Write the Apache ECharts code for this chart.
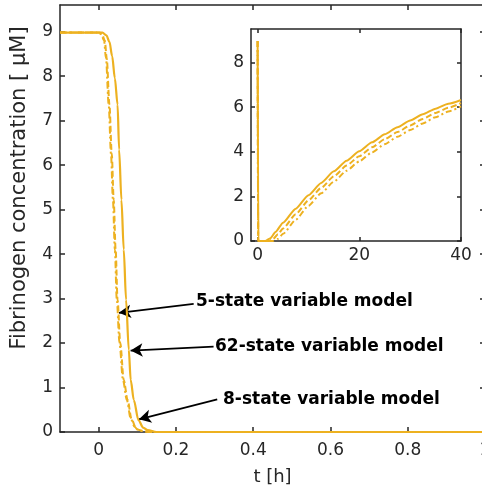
<!DOCTYPE html>
<html><head><meta charset="utf-8">
<script src="https://cdn.jsdelivr.net/npm/echarts@6/dist/echarts.min.js"></script>
<style>html,body{margin:0;padding:0;background:#fff}#c{width:482px;height:489px}</style>
</head><body><div id="c"></div>
<script>
// ---- data ----
const mainXTicks = [0, 0.2, 0.4, 0.6, 0.8, 1];
const mainYTicks = [0, 1, 2, 3, 4, 5, 6, 7, 8, 9];
const insetXTicks = [0, 20, 40];
const insetYTicks = [0, 2, 4, 6, 8];

// main panel (t in hours)
const tSolid = [-0.1, 0.01, 0.02, 0.028, 0.035, 0.042, 0.049, 0.053, 0.059, 0.065, 0.071, 0.078, 0.083, 0.091, 0.103, 0.115, 0.127, 0.15, 1];
const vSolid = [8.98, 8.98, 8.92, 8.77, 8.45, 7.95, 7.36, 6.35, 5.22, 4.1, 2.97, 1.85, 1.17, 0.72, 0.27, 0.1, 0.04, 0, 0];
const tDashed = [-0.1, 0.002, 0.009, 0.016, 0.021, 0.028, 0.034, 0.039, 0.044, 0.049, 0.056, 0.065, 0.075, 0.085, 0.095, 0.103, 0.115, 0.13, 1];
const vDashed = [8.98, 8.98, 8.94, 8.8, 8.4, 7.36, 6.25, 5.22, 4.1, 2.97, 2.0, 1.17, 0.72, 0.3, 0.12, 0.05, 0.02, 0, 0];
const tDashDot = [-0.1, 0.0, 0.007, 0.014, 0.019, 0.026, 0.032, 0.037, 0.042, 0.047, 0.054, 0.063, 0.073, 0.083, 0.093, 0.101, 0.113, 0.128, 1];
const vDashDot = [8.98, 8.98, 8.94, 8.8, 8.4, 7.36, 6.25, 5.22, 4.1, 2.97, 2.0, 1.17, 0.72, 0.3, 0.12, 0.05, 0.02, 0, 0];

// inset panel (long time scale, hours)
const tInSolid = [0, 0.15, 1.5, 2.5, 3.5, 5, 7.5, 10, 12.5, 15, 17.5, 20, 22.5, 25, 27.5, 30, 32.5, 35, 37.5, 40];
const vInSolid = [8.96, 0, 0, 0.12, 0.4, 0.82, 1.45, 2.05, 2.6, 3.12, 3.6, 4.02, 4.42, 4.78, 5.1, 5.4, 5.68, 5.93, 6.15, 6.32];
const tInDashed = [0, 0.12, 2.2, 3, 4, 5, 7.5, 10, 12.5, 15, 17.5, 20, 22.5, 25, 27.5, 30, 32.5, 35, 37.5, 40];
const vInDashed = [8.96, 0, 0, 0.08, 0.3, 0.56, 1.2, 1.82, 2.38, 2.9, 3.38, 3.8, 4.2, 4.56, 4.88, 5.18, 5.47, 5.74, 5.97, 6.18];
const tInDashDot = [0, 0.11, 3, 4, 5, 7.5, 10, 12.5, 15, 17.5, 20, 22.5, 25, 27.5, 30, 32.5, 35, 37.5, 40];
const vInDashDot = [8.96, 0, 0, 0.1, 0.32, 0.95, 1.58, 2.14, 2.66, 3.15, 3.57, 3.97, 4.34, 4.67, 4.97, 5.27, 5.55, 5.8, 6.03];

// annotations: label, arrow tail (t, value), arrow head (t, value)
const labels = ['5-state variable model', '62-state variable model', '8-state variable model'];
const arrowTails = [[0.246, 2.88], [0.2975, 1.92], [0.307, 0.736]];
const arrowHeads = [[0.0525, 2.68], [0.0828, 1.83], [0.1043, 0.286]];
const yTitle = 'Fibrinogen concentration [ \u03BCM]';

const zip = (a, b) => a.map((x, i) => [x, b[i]]);
const C = '#EDB120';
const AX = '#262626';
const FONT = 'DejaVu Sans';
const FS = 17;

const chart = echarts.init(document.getElementById('c'), null, {renderer: 'canvas'});

function tick(vals, len) {
  return {show: true, inside: true, length: len, customValues: vals, lineStyle: {color: AX, width: 1.5}};
}
function axisCommon(extra) {
  return Object.assign({
    type: 'value',
    axisLine: {show: true, onZero: false, lineStyle: {color: AX, width: 1.5}},
    axisLabel: {show: false},
    splitLine: {show: false}
  }, extra);
}
function lbl(vals, margin) {
  return {color: AX, fontSize: FS, fontFamily: FONT, margin: margin, customValues: vals, formatter: v => String(v)};
}

const option = {
  animation: false,
  backgroundColor: '#fff',
  grid: [
    {left: 60, top: 5, right: -3, bottom: 57, containLabel: false, outerBoundsMode: 'none'},
    {left: 251, top: 29, width: 210, height: 212, containLabel: false, outerBoundsMode: 'none', show: true, backgroundColor: '#fff', borderWidth: 0}
  ],
  xAxis: [
    axisCommon({gridIndex: 0, position: 'bottom', min: -0.1, max: 1,
      axisTick: tick(mainXTicks, 5), axisLabel: lbl(mainXTicks, 10),
      name: 't [h]', nameLocation: 'middle', nameGap: 36,
      nameTextStyle: {color: AX, fontSize: 18, fontFamily: FONT}}),
    axisCommon({gridIndex: 0, position: 'top', min: -0.1, max: 1, axisTick: tick(mainXTicks, 5)}),
    axisCommon({gridIndex: 1, position: 'bottom', min: -1.3, max: 40,
      axisTick: tick(insetXTicks, 4), axisLabel: lbl(insetXTicks, 6)}),
    axisCommon({gridIndex: 1, position: 'top', min: -1.3, max: 40, axisTick: tick(insetXTicks, 4)})
  ],
  yAxis: [
    axisCommon({gridIndex: 0, position: 'left', min: 0, max: 9.6, interval: 1,
      axisTick: tick(mainYTicks, 5), axisLabel: lbl(mainYTicks, 7)}),
    axisCommon({gridIndex: 0, position: 'right', min: 0, max: 9.6, interval: 1, axisTick: tick(mainYTicks, 5)}),
    axisCommon({gridIndex: 1, position: 'left', min: 0, max: 9.5, interval: 2,
      axisTick: tick(insetYTicks, 4), axisLabel: lbl(insetYTicks, 7)}),
    axisCommon({gridIndex: 1, position: 'right', min: 0, max: 9.5, interval: 2, axisTick: tick(insetYTicks, 4)})
  ],
  series: [
    {type: 'line', xAxisIndex: 0, yAxisIndex: 0, data: zip(tSolid, vSolid), showSymbol: false, smooth: 0.3, smoothMonotone: 'x',
      lineStyle: {color: C, width: 2.2}, z: 5},
    {type: 'line', xAxisIndex: 0, yAxisIndex: 0, data: zip(tDashed, vDashed), showSymbol: false, smooth: 0.3, smoothMonotone: 'x',
      lineStyle: {color: C, width: 2, type: [6, 3]}, z: 5},
    {type: 'line', xAxisIndex: 0, yAxisIndex: 0, data: zip(tDashDot, vDashDot), showSymbol: false, smooth: 0.3, smoothMonotone: 'x',
      lineStyle: {color: C, width: 2, type: [7, 3, 2, 3]}, z: 5},
    {type: 'line', xAxisIndex: 2, yAxisIndex: 2, data: zip(tInSolid, vInSolid), showSymbol: false, smooth: 0.2, smoothMonotone: 'x',
      lineStyle: {color: C, width: 2}, z: 5},
    {type: 'line', xAxisIndex: 2, yAxisIndex: 2, data: zip(tInDashed, vInDashed), showSymbol: false, smooth: 0.2, smoothMonotone: 'x',
      lineStyle: {color: C, width: 2, type: [6, 3]}, z: 5},
    {type: 'line', xAxisIndex: 2, yAxisIndex: 2, data: zip(tInDashDot, vInDashDot), showSymbol: false, smooth: 0.2, smoothMonotone: 'x',
      lineStyle: {color: C, width: 2, type: [6, 3, 2, 3]}, z: 5},
    {type: 'line', xAxisIndex: 0, yAxisIndex: 0, data: [], z: 10,
      markLine: {silent: true, animation: false, symbol: ['none', 'arrow'], symbolSize: [10, 12],
        lineStyle: {color: '#000', width: 1.8, type: 'solid'}, label: {show: false},
        data: arrowTails.map((s, i) => [{coord: s}, {coord: arrowHeads[i]}])}}
  ],
  graphic: labels.map((txt, i) => ({
    type: 'text', z: 20,
    left: [196, 215, 223][i], top: [303, 348, 401][i] - 10,
    style: {text: txt, fill: '#000', font: 'bold 17px "DejaVu Sans"'}
  })).concat([{
    type: 'text', z: 20, x: 20, y: 188, rotation: Math.PI / 2,
    style: {text: yTitle, fill: AX, font: '21px "DejaVu Sans"', align: 'center', verticalAlign: 'middle'}
  }])
};
chart.setOption(option);
</script></body></html>
